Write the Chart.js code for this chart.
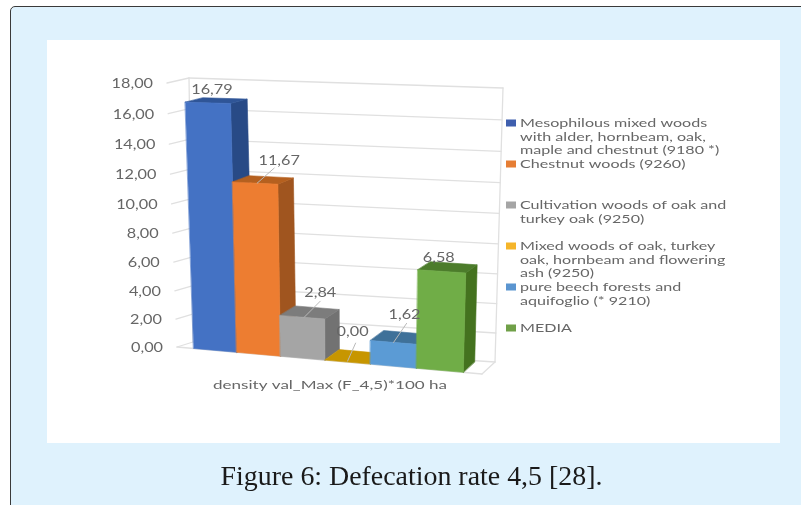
<!DOCTYPE html>
<html>
<head>
<meta charset="utf-8">
<title>Defecation rate</title>
<script src="https://cdn.jsdelivr.net/npm/chart.js@4"></script>
<style>
  html, body { margin: 0; padding: 0; background: #fff; }
  body { position: relative; width: 801px; height: 505px; overflow: hidden; }
  #card {
    position: absolute; left: 10px; top: 6px; width: 820px; height: 540px;
    box-sizing: border-box; background: #dff2fd;
    border: 1.5px solid #3a3a3a; border-radius: 5px;
  }
  #panel { position: absolute; left: 47px; top: 40px; width: 733px; height: 403px; background: #fff; }
  #chart { position: absolute; left: 0; top: 0; filter: blur(0.7px); }
  #caption {
    position: absolute; left: 0; top: 459px; width: 823px; text-align: center;
    font: 27.9px "Liberation Serif", serif; color: #1a1a1a; line-height: 34px;
  }
</style>
</head>
<body>
<div id="card"></div>
<div id="panel"></div>
<canvas id="chart" width="801" height="505"></canvas>
<div id="caption">Figure 6: Defecation rate 4,5 [28].</div>
<script>
// Chart values
const categories = ['density val_Max (F_4,5)*100 ha'];
const seriesNames = [
  ['Mesophilous mixed woods', 'with alder, hornbeam, oak,', 'maple and chestnut (9180 *)'],
  ['Chestnut woods (9260)'],
  ['Cultivation woods of oak and', 'turkey oak (9250)'],
  ['Mixed woods of oak, turkey', 'oak, hornbeam and flowering', 'ash (9250)'],
  ['pure beech forests and', 'aquifoglio (* 9210)'],
  ['MEDIA']
];
const seriesValues = [16.79, 11.67, 2.84, 0.00, 1.62, 6.58];
const axisMin = 0;
const axisMax = 18;
const axisStep = 2;

// Face colours per series: front, side, top
const frontColors = ['#4472c4', '#ed7d31', '#a5a5a5', '#e0a800', '#5b9bd5', '#70ad47'];
const sideColors  = ['#284a86', '#a0551f', '#727272', '#b88a00', '#3c6c98', '#44721f'];
const topColors   = ['#2f5597', '#b5601f', '#7c7c7c', '#c79600', '#3f7199', '#4c7c2b'];
const legendColors = ['#3f5fae', '#e67e34', '#a5a5a5', '#f5b52a', '#5b95d0', '#70a048'];

// Value-label offsets from the front-top centre of each bar, with optional leader line
const labelNudge = [[4, -13], [24, -22], [18, -24], [5, -30], [11, -27], [-3, -13]];
const leaderFrom = [null, [2, 0], [2, 0], [0, -1], [0, 0], null];
const leaderTo   = [null, [19, -15], [18, -16], [8, -19], [13, -19], null];

// Oblique view: corners of the front plane and the back wall
const front = { bl: [177, 347], br: [482, 374], tl: [167, 83], tr: [490, 91.5] };
const wall  = { bl: [193, 342], br: [495, 362], tl: [189, 78], tr: [503, 88] };
const foreshortenV = 0.053;
const foreshortenU = 0.06;

const lerp = (a, b, t) => a + (b - a) * t;
function warp(t, k) { return t * (1 - k * (1 - t)); }
function onPlane(q, u, v) {
  const w = warp(v, foreshortenV), s = warp(u, foreshortenU);
  const bx = lerp(q.bl[0], q.br[0], s), by = lerp(q.bl[1], q.br[1], s);
  const tx = lerp(q.tl[0], q.tr[0], s), ty = lerp(q.tl[1], q.tr[1], s);
  return [lerp(bx, tx, w), lerp(by, ty, w)];
}
function depth(u, v) { return [18 - 7 * u, -(10.5 - 6.5 * v)]; }
function back(p, u, v) { const d = depth(u, v); return [p[0] + d[0], p[1] + d[1]]; }

function poly(ctx, pts, fill) {
  ctx.beginPath();
  pts.forEach((p, i) => i ? ctx.lineTo(p[0], p[1]) : ctx.moveTo(p[0], p[1]));
  ctx.closePath();
  ctx.fillStyle = fill;
  ctx.fill();
  ctx.strokeStyle = fill;
  ctx.lineWidth = 0.6;
  ctx.stroke();
}
function line(ctx, a, b, color, width) {
  ctx.beginPath();
  ctx.moveTo(a[0], a[1]);
  ctx.lineTo(b[0], b[1]);
  ctx.strokeStyle = color;
  ctx.lineWidth = width;
  ctx.stroke();
}
// Text is set wide, as in the original chart export
function wideText(ctx, text, x, y, align, stretch, px, color) {
  ctx.save();
  ctx.translate(x, y);
  ctx.scale(stretch, 1);
  ctx.font = px + 'px Lato, sans-serif';
  ctx.textAlign = align;
  ctx.textBaseline = 'middle';
  ctx.fillStyle = color;
  ctx.fillText(text, 0, 0);
  ctx.restore();
}

const TEXT = '#666666';
const GRID = '#e0e0e0';

const view3d = {
  id: 'view3d',
  beforeDatasetsDraw(chart) {
    const ctx = chart.ctx, area = chart.chartArea, y = chart.scales.y;
    ctx.save();
    ctx.lineCap = 'round';

    // Walls and floor outline
    y.ticks.forEach((t) => {
      const v = (t.value - axisMin) / (axisMax - axisMin);
      line(ctx, onPlane(wall, 0, v), onPlane(wall, 1, v), GRID, 1.3);
      line(ctx, onPlane(front, 0, v), onPlane(wall, 0, v), GRID, 1.3);
      const p = onPlane(front, 0, v);
      wideText(ctx, t.label, p[0] - 14, p[1] + 1, 'right', 1.3, 12.5, TEXT);
    });
    line(ctx, onPlane(wall, 0, 0), onPlane(wall, 0, 1), GRID, 1.3);
    line(ctx, onPlane(wall, 1, 0), onPlane(wall, 1, 1), GRID, 1.3);
    line(ctx, onPlane(front, 0, 0), onPlane(front, 1, 0), GRID, 1.3);
    line(ctx, onPlane(front, 1, 0), onPlane(wall, 1, 0), GRID, 1.3);

    // Bars, back to front from left to right
    const tops = [];
    chart.data.datasets.forEach((ds, i) => {
      const bar = chart.getDatasetMeta(i).data[0];
      const u0 = (bar.x - bar.width / 2 - area.left) / area.width;
      const u1 = (bar.x + bar.width / 2 - area.left) / area.width;
      const v = (area.bottom - bar.y) / area.height;
      const bl = onPlane(front, u0, 0), br = onPlane(front, u1, 0);
      const tl = onPlane(front, u0, v), tr = onPlane(front, u1, v);
      poly(ctx, [br, tr, back(tr, u1, v), back(br, u1, 0)], sideColors[i]);
      poly(ctx, [tl, tr, back(tr, u1, v), back(tl, u0, v)], topColors[i]);
      if (v > 0) poly(ctx, [bl, br, tr, tl], frontColors[i]);
      tops.push([(tl[0] + tr[0]) / 2, (tl[1] + tr[1]) / 2]);
    });

    // Value labels with leader lines
    seriesValues.forEach((val, i) => {
      const c = tops[i];
      if (leaderFrom[i]) {
        line(ctx, [c[0] + leaderFrom[i][0], c[1] + leaderFrom[i][1]],
                  [c[0] + leaderTo[i][0], c[1] + leaderTo[i][1]], '#b9b9b9', 1);
      }
      wideText(ctx, val.toFixed(2).replace('.', ','), c[0] + labelNudge[i][0], c[1] + labelNudge[i][1],
               'center', 1.3, 12.5, TEXT);
    });

    // Category name under the floor
    wideText(ctx, categories[0], 330, 385, 'center', 1.42, 12, TEXT);

    // Legend
    seriesNames.forEach((rows, i) => {
      const rowY = 123 + i * 41;
      ctx.fillStyle = legendColors[i];
      ctx.fillRect(506, rowY - 3.5, 10, 7);
      rows.forEach((txt, k) => wideText(ctx, txt, 520, rowY + k * 13.7, 'left', 1.34, 12, TEXT));
    });

    ctx.restore();
    return false;
  }
};

new Chart(document.getElementById('chart'), {
  type: 'bar',
  data: {
    labels: categories,
    datasets: seriesNames.map((rows, i) => ({
      label: rows.join(' '),
      data: [seriesValues[i]],
      backgroundColor: frontColors[i]
    }))
  },
  options: {
    responsive: false,
    animation: false,
    events: [],
    layout: { padding: { left: 177, top: 83, right: 319, bottom: 158 } },
    datasets: { bar: { categoryPercentage: 0.884, barPercentage: 1 } },
    plugins: { legend: { display: false }, title: { display: false }, tooltip: { enabled: false } },
    scales: {
      x: { grid: { display: false, drawTicks: false }, border: { display: false }, ticks: { display: false } },
      y: {
        min: axisMin, max: axisMax,
        grid: { display: false, drawTicks: false }, border: { display: false },
        ticks: { display: false, stepSize: axisStep, callback: v => v.toFixed(2).replace('.', ',') }
      }
    }
  },
  plugins: [view3d]
});
</script>
</body>
</html>
